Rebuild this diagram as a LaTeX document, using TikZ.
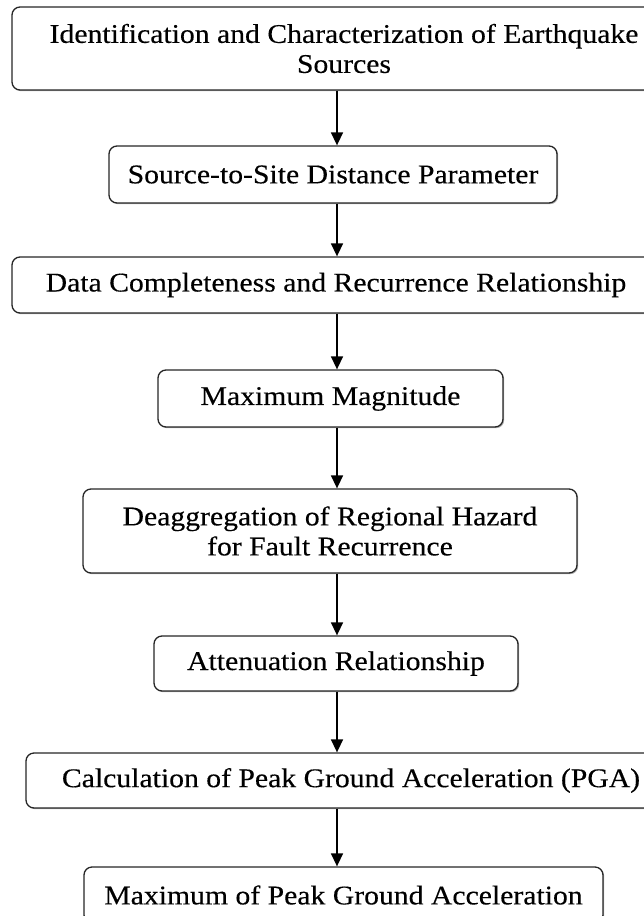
\documentclass[tikz,border=0pt]{standalone}
\usepackage{fontspec}
\setmainfont{Liberation Serif}[FakeStretch=1.1, FakeBold=0.3]
\usetikzlibrary{arrows.meta}
\usetikzlibrary{shadows}

\tikzset{
	stepbox/.style={draw=black!85, line width=1.3pt, rounded corners=8pt, fill=white,
		align=center, inner sep=0pt, font=\fontsize{27}{30}\selectfont,
		drop shadow={shadow xshift=1.2pt, shadow yshift=-1.2pt, opacity=0.3, fill=black}},
	flow/.style={line width=1.5pt, -{Triangle[width=12pt,length=13pt]}}
}

\begin{document}
\begin{tikzpicture}[x=1pt, y=-1pt]
					% Page frame, the wide boxes run over the right edge
					\path[use as bounding box, clip] (0,0) rectangle (644,916);

					% Column of the arrows
					\coordinate (axis) at (337,0);

					\node[stepbox, minimum width=664pt, minimum height=83pt] (ident) at (344,48.5) {Identification and Characterization of Earthquake\\Sources};
					\node[stepbox, minimum width=448pt, minimum height=57pt] (dist) at (333,174.5) {Source-to-Site Distance Parameter};
					\node[stepbox, minimum width=648pt, minimum height=56pt] (recur) at (336,285) {Data Completeness and Recurrence Relationship};
					\node[stepbox, minimum width=345pt, minimum height=57pt] (mmax) at (330.5,398.5) {Maximum Magnitude};
					\node[stepbox, minimum width=494pt, minimum height=84pt] (deagg) at (330,531) {Deaggregation of Regional Hazard\\for Fault Recurrence};
					\node[stepbox, minimum width=364pt, minimum height=55pt] (atten) at (336,663.5) {Attenuation Relationship};
					\node[stepbox, minimum width=650pt, minimum height=55pt] (pga) at (351,780.5) {Calculation of Peak Ground Acceleration (PGA)};
					\node[stepbox, minimum width=519pt, minimum height=56pt] (pgamax) at (343.5,895) {Maximum of Peak Ground Acceleration};

					% Arrows down the column
					\draw[flow] (ident.south -| axis) -- (dist.north -| axis);
					\draw[flow] (dist.south -| axis) -- (recur.north -| axis);
					\draw[flow] (recur.south -| axis) -- (mmax.north -| axis);
					\draw[flow] (mmax.south -| axis) -- (deagg.north -| axis);
					\draw[flow] (deagg.south -| axis) -- (atten.north -| axis);
					\draw[flow] (atten.south -| axis) -- (pga.north -| axis);
					\draw[flow] (pga.south -| axis) -- (pgamax.north -| axis);
				\end{tikzpicture}
\end{document}
